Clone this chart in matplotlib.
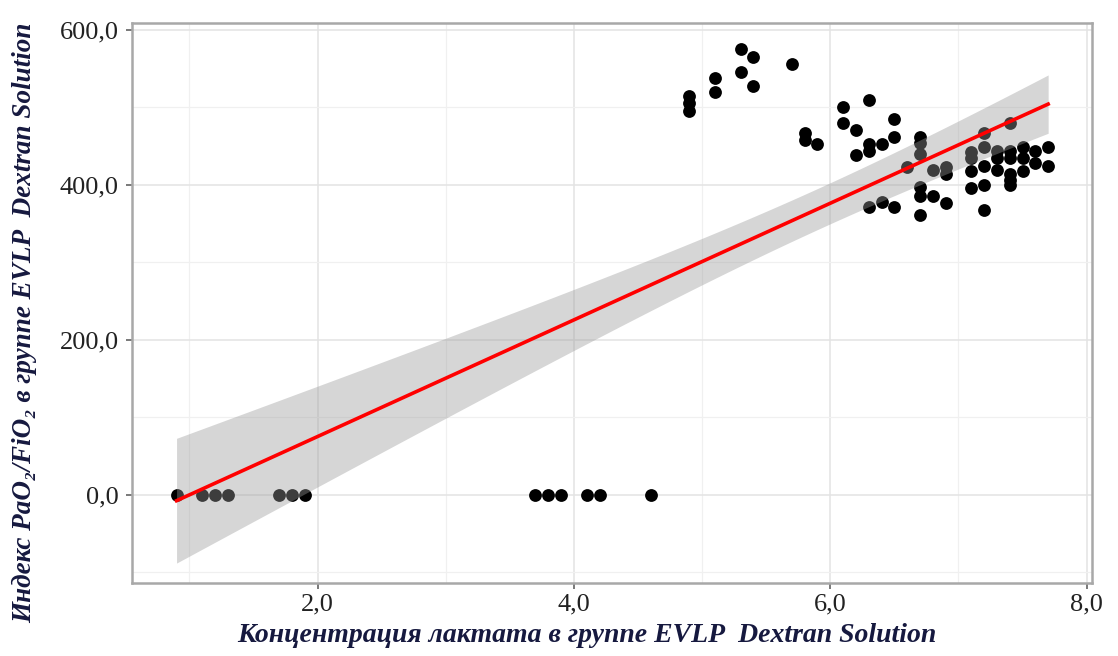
import numpy as np
import matplotlib
matplotlib.use("Agg")
import matplotlib.pyplot as plt
from matplotlib.ticker import MultipleLocator, FuncFormatter

# lactate concentration vs PaO2/FiO2 (EVLP, Dextran Solution)
lactate = [0.9, 1.1, 1.2, 1.3, 1.7, 1.8, 1.9, 3.7, 3.8, 3.9, 4.1, 4.2, 4.6,
           4.9, 4.9, 4.9, 5.1, 5.1, 5.3, 5.3, 5.4, 5.4, 5.7, 5.8, 5.8, 5.9,
           6.1, 6.1, 6.2, 6.2, 6.3, 6.3, 6.3, 6.3, 6.4, 6.4, 6.5, 6.5, 6.5,
           6.6, 6.7, 6.7, 6.7, 6.7, 6.7, 6.7, 6.8, 6.8, 6.9, 6.9, 6.9,
           7.1, 7.1, 7.1, 7.1, 7.2, 7.2, 7.2, 7.2, 7.2, 7.3, 7.3, 7.3,
           7.4, 7.4, 7.4, 7.4, 7.4, 7.4, 7.5, 7.5, 7.5, 7.6, 7.6, 7.7, 7.7]
pf_ratio = [0, 0, 0, 0, 0, 0, 0, 0, 0, 0, 0, 0, 0,
            515, 505, 495, 538, 519, 575, 546, 565, 527, 556, 467, 457, 452,
            500, 480, 471, 438, 509, 453, 443, 371, 453, 377, 485, 461, 371,
            423, 462, 454, 439, 397, 385, 361, 419, 385, 423, 414, 376,
            442, 434, 418, 396, 467, 448, 424, 400, 367, 443, 434, 419,
            480, 443, 434, 414, 406, 399, 449, 434, 418, 443, 428, 448, 424]

x_label = "Концентрация лактата в группе EVLP  Dextran Solution"
y_label = "Индекс PaO₂/FiO₂ в группе EVLP  Dextran Solution"

serif = ["Liberation Serif", "DejaVu Serif"]
label_color = "#16193f"

x = np.array(lactate)
y = np.array(pf_ratio, dtype=float)

# linear fit + 95% confidence band (like geom_smooth(method="lm"))
n = len(x)
b, a = np.polyfit(x, y, 1)
resid = y - (a + b * x)
s = np.sqrt(np.sum(resid ** 2) / (n - 2))
sxx = np.sum((x - x.mean()) ** 2)
xs = np.linspace(x.min(), x.max(), 200)
ys = a + b * xs
se = s * np.sqrt(1.0 / n + (xs - x.mean()) ** 2 / sxx)
t95 = 1.993

fig = plt.figure(figsize=(11.18, 6.56), dpi=100)
ax = fig.add_axes([0.1178, 0.1113, 0.8587, 0.8529])

ax.scatter(x, y, s=85, color="black", zorder=2, linewidths=0)
ax.fill_between(xs, ys - t95 * se, ys + t95 * se, color="#999999", alpha=0.4,
                linewidth=0, zorder=3)
ax.plot(xs, ys, color="red", lw=2.6, zorder=4)

ax.set_xlim(0.55, 8.04)
ax.set_ylim(-114, 608)
ax.xaxis.set_major_locator(MultipleLocator(2))
ax.xaxis.set_minor_locator(MultipleLocator(1))
ax.yaxis.set_major_locator(MultipleLocator(200))
ax.yaxis.set_minor_locator(MultipleLocator(100))
fmt = FuncFormatter(lambda v, p: ("%.1f" % v).replace(".", ","))
ax.xaxis.set_major_formatter(fmt)
ax.yaxis.set_major_formatter(fmt)

ax.grid(which="major", color="#e3e3e3", lw=1.1, zorder=0)
ax.grid(which="minor", color="#f0f0f0", lw=0.9, zorder=0)
ax.set_axisbelow(True)

for sp in ax.spines.values():
    sp.set_color("#a8a8a8")
    sp.set_linewidth(1.8)

ax.tick_params(which="major", direction="out", length=4.5, width=1.1,
               color="#555555", labelsize=19, labelcolor="#222222")
ax.tick_params(axis="x", pad=3)
ax.tick_params(axis="y", pad=5)
ax.tick_params(which="minor", length=0)
for lab in ax.get_xticklabels() + ax.get_yticklabels():
    lab.set_family(serif)

ax.set_xlabel(x_label, family=serif, fontsize=20, fontweight="bold",
              fontstyle="italic", color=label_color)
ax.set_ylabel(y_label, family=serif, fontsize=19.5, fontweight="bold",
              fontstyle="italic", color=label_color)
ax.xaxis.set_label_coords(0.474, -0.072)
ax.yaxis.set_label_coords(-0.098, 0.465)

fig.savefig("out.png", dpi=100)
